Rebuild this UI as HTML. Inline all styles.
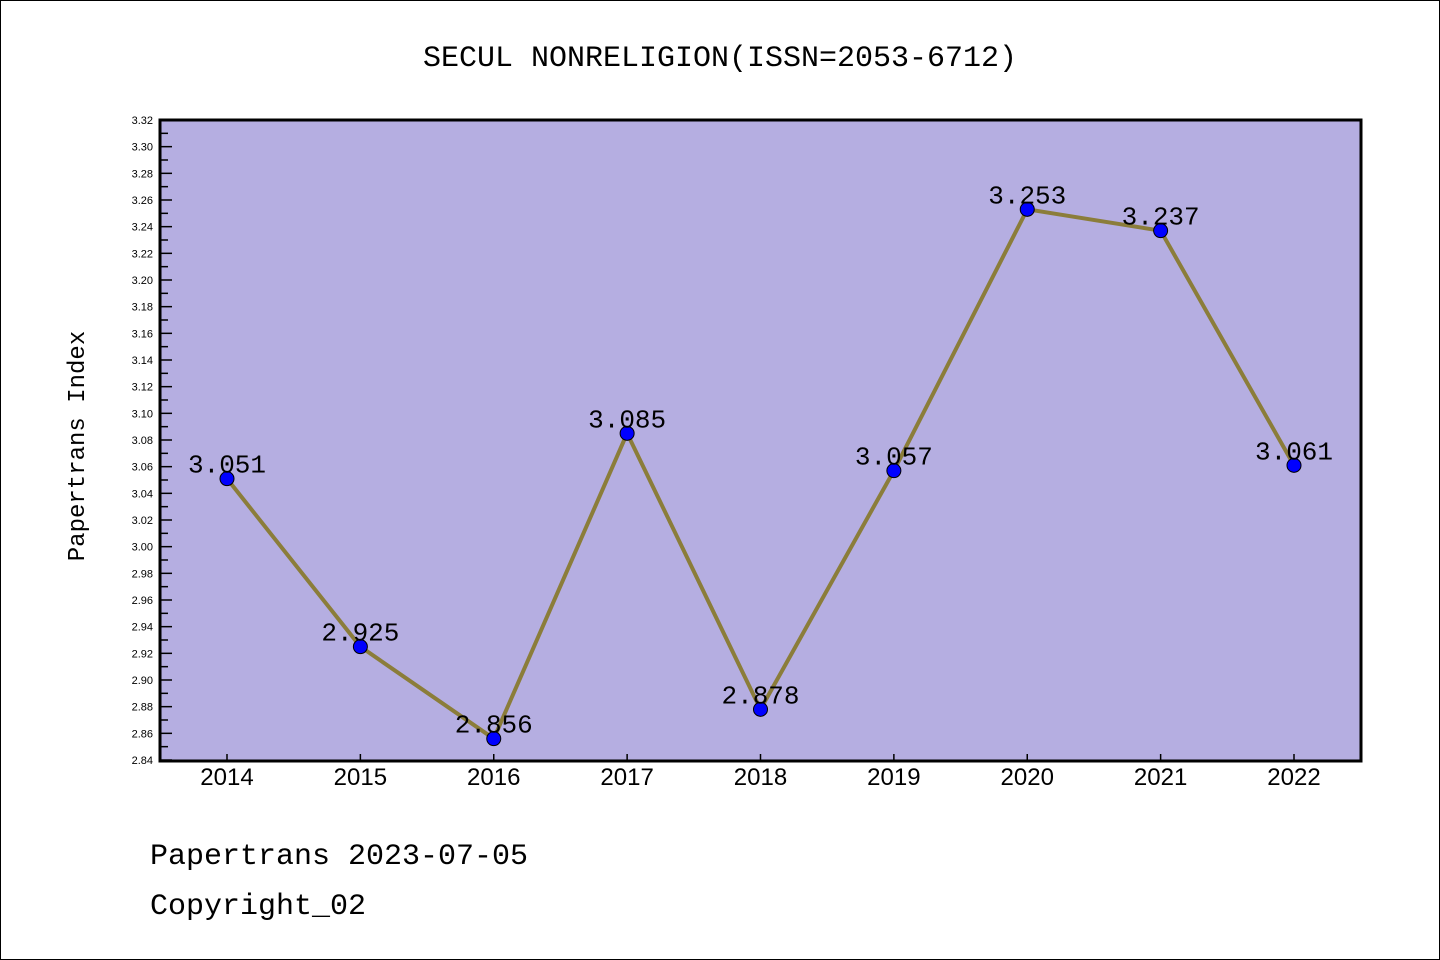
<!DOCTYPE html>
<html><head><meta charset="utf-8"><style>
body{margin:0;background:#fff;}
svg{display:block;}
text{font-family:"Liberation Sans","WenQuanYi Zen Hei",sans-serif;}
.mono{font-family:"Liberation Mono","WenQuanYi Zen Hei",monospace;}
</style></head><body>
<svg id="chart" width="1440" height="960" viewBox="0 0 1440 960">
<rect x="0.5" y="0.5" width="1439" height="959" fill="#fff" stroke="#000"/>
<text class="mono" x="720" y="66" font-size="30" text-anchor="middle">SECUL NONRELIGION(ISSN=2053-6712)</text>
<rect x="160" y="120" width="1201" height="641" fill="#b5aee1"/>
<g id="yaxis"></g>
<g id="xaxis"></g>
<g id="series"></g>
<rect x="160" y="120" width="1201" height="641" fill="none" stroke="#000" stroke-width="3"/>
<text class="mono" transform="translate(84,446) rotate(-90)" font-size="24" text-anchor="middle">Papertrans Index</text>
<text class="mono" x="150" y="864" font-size="30">Papertrans 2023-07-05</text>
<text class="mono" x="150" y="914" font-size="30">Copyright_02</text>
</svg>
<script>
const years = [2014,2015,2016,2017,2018,2019,2020,2021,2022];
const values = [3.051,2.925,2.856,3.085,2.878,3.057,3.253,3.237,3.061];
const labels = ["3.051","2.925","2.856","3.085","2.878","3.057","3.253","3.237","3.061"];
const yMin = 2.84, yMax = 3.32;
const NS = "http://www.w3.org/2000/svg";
const L=160,R=1361,T=120,B=760;
function y(v){return B-(v-yMin)/(yMax-yMin)*(B-T);}
function x(i){return 227+i*(1294-227)/(years.length-1);}
function mk(tag,attrs,parent){const e=document.createElementNS(NS,tag);for(const k in attrs)e.setAttribute(k,attrs[k]);parent.appendChild(e);return e;}
const ya=document.getElementById('yaxis'),xa=document.getElementById('xaxis'),se=document.getElementById('series');
for(let k=0;k<=48;k++){
  const v=yMin+k*0.01, yy=y(v), major=k%2===0;
  const t=mk('line',{x1:L,x2:L+(major?12:8),y1:yy,y2:yy,stroke:'#000','stroke-width':1.5},ya);
  
  
  if(major){
    const tx=mk('text',{x:153,y:yy+4,'font-size':11,'text-anchor':'end'},ya);
    tx.textContent=v.toFixed(2);
    
    
  }
}
years.forEach((yr,i)=>{
  const t=mk('line',{x1:x(i),x2:x(i),y1:B,y2:B-6,stroke:'#000','stroke-width':1.5},xa);
  
  
  const tx=mk('text',{x:x(i),y:785,'font-size':24,'text-anchor':'middle'},xa);
  tx.textContent=yr;
  
  
});
const pl=mk('polyline',{points:values.map((v,i)=>x(i)+','+y(v)).join(' '),fill:'none',stroke:'#8b7d3a','stroke-width':4},se);


values.forEach((v,i)=>{
  const c=mk('circle',{cx:x(i),cy:y(v),r:7,fill:'#0000ff',stroke:'#000','stroke-width':1},se);
  
  
  const tx=mk('text',{x:x(i),y:y(v)-6,'font-size':26,'text-anchor':'middle',class:'mono'},se);
  tx.textContent=labels[i];
  
  
});
</script>
</body></html>
